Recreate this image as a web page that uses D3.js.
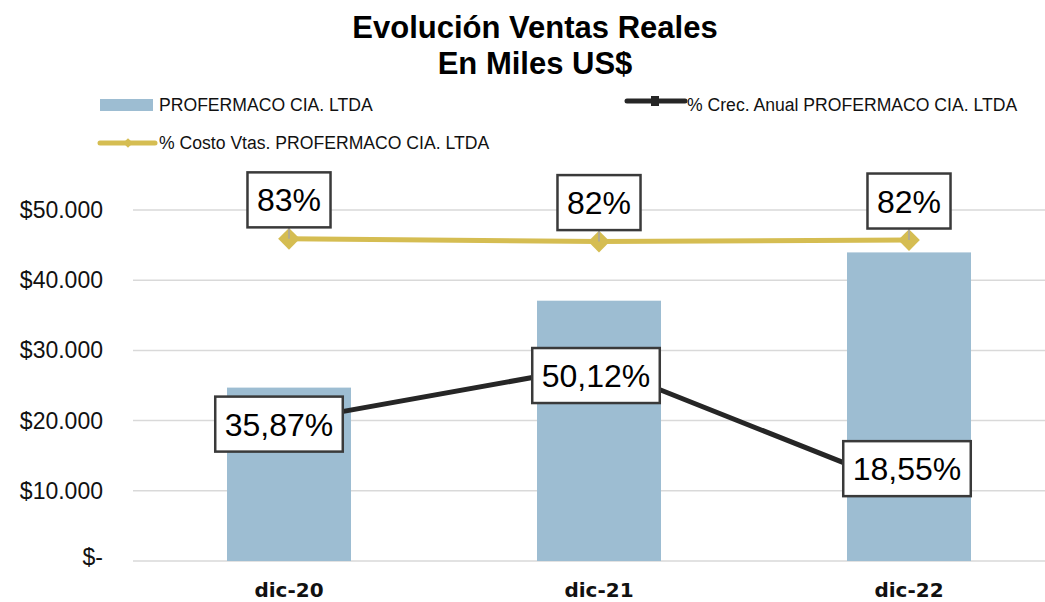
<!DOCTYPE html>
<html lang="es">
<head>
<meta charset="UTF-8">
<title>Evolución Ventas Reales</title>
<script src="https://d3js.org/d3.v7.min.js"></script>
<style>
  body { margin: 0; background: #fff; }
  svg { display: block; font-family: "Liberation Sans", Arial, sans-serif; }
</style>
</head>
<body>
<svg id="chart"></svg>
<script>
// datos
const categorias = ["dic-20", "dic-21", "dic-22"];
const ventas = [24700, 37080, 43960];          // miles US$
const crecimiento = [35.87, 50.12, 18.55];     // % crec. anual
const costo = [82.6, 81.9, 82.3];              // % costo ventas
const ticksY = [0, 10000, 20000, 30000, 40000, 50000];

const width = 1045, height = 602;
const colBar = "#9dbdd2", colGold = "#d5bd52", colBlack = "#262626";

const svg = d3.select("#chart").attr("width", width).attr("height", height);

const x = d3.scaleBand().domain(categorias).range([134, 1064])
            .paddingInner(0.6).paddingOuter(0.3);
const y = d3.scaleLinear().domain([0, 50000]).range([561, 210]);
const y2 = d3.scaleLinear().domain([0, 90]).range([561, 210]);

const loc = d3.formatLocale({decimal: ",", thousands: ".", grouping: [3], currency: ["$", ""]});
const fmtMoney = v => v === 0 ? "$-" : "$" + loc.format(",.0f")(v);
const fmtPct2 = loc.format(".2f");

// titulo
svg.append("text").attr("x", 535).attr("y", 38).attr("text-anchor", "middle")
   .attr("font-size", 31).attr("font-weight", "bold").text("Evolución Ventas Reales");
svg.append("text").attr("x", 535).attr("y", 74).attr("text-anchor", "middle")
   .attr("font-size", 31).attr("font-weight", "bold").text("En Miles US$");

// grilla y eje y
svg.append("g").selectAll("line").data(ticksY).join("line")
   .attr("x1", 133).attr("x2", width)
   .attr("y1", d => y(d)).attr("y2", d => y(d))
   .attr("stroke", "#d9d9d9").attr("stroke-width", 1.5);

svg.append("g").selectAll("text").data(ticksY).join("text")
   .attr("x", 103).attr("y", d => y(d) + (d === 0 ? -4 : 0)).attr("dy", "0.35em")
   .attr("text-anchor", "end").attr("font-size", 23).attr("fill", "#111")
   .text(fmtMoney);

// barras
svg.append("g").selectAll("rect").data(ventas).join("rect")
   .attr("x", (d, i) => x(categorias[i]))
   .attr("y", d => y(d))
   .attr("width", x.bandwidth())
   .attr("height", d => y(0) - y(d))
   .attr("fill", colBar);

// eje x
const xAxis = svg.append("g").attr("transform", `translate(0,${y(0)})`)
   .call(d3.axisBottom(x).tickSize(0).tickPadding(22));
xAxis.select(".domain").remove();
xAxis.selectAll("text").attr("font-family", "'DejaVu Sans', sans-serif")
   .attr("font-weight", "bold").attr("font-size", 20).attr("fill", "#111");

const cx = i => x(categorias[i]) + x.bandwidth() / 2;

// linea costo
svg.append("path").datum(costo)
   .attr("d", d3.line().x((d, i) => cx(i)).y(d => y2(d)))
   .attr("fill", "none").attr("stroke", colGold).attr("stroke-width", 5);
svg.append("g").selectAll("path").data(costo).join("path")
   .attr("d", d3.symbol(d3.symbolDiamond2, 300))
   .attr("transform", (d, i) => `translate(${cx(i)},${y2(d)})`)
   .attr("fill", colGold);

// linea crecimiento
svg.append("path").datum(crecimiento)
   .attr("d", d3.line().x((d, i) => cx(i)).y(d => y2(d)))
   .attr("fill", "none").attr("stroke", colBlack).attr("stroke-width", 5);

// etiquetas
function etiqueta(g, px, py, txt) {
  const t = g.append("text").attr("x", px).attr("y", py).attr("dy", "0.36em")
     .attr("text-anchor", "middle").attr("font-size", 32).attr("fill", "#000").text(txt);
  const w = t.node().getComputedTextLength() + 19;
  g.insert("rect", "text").attr("x", px - w / 2).attr("y", py - 27.5)
   .attr("width", w).attr("height", 55)
   .attr("fill", "#fff").attr("stroke", "#3a3a3a").attr("stroke-width", 2.5);
}

const labCosto = svg.append("g");
costo.forEach((d, i) => {
  const py = y2(d) - 39;
  labCosto.append("line").attr("x1", cx(i)).attr("x2", cx(i))
     .attr("y1", py + 27.5).attr("y2", y2(d)).attr("stroke", "#a6a6a6").attr("stroke-width", 1.5);
  etiqueta(labCosto.append("g"), cx(i), py, Math.round(d) + "%");
});

const offCrec = [[-10, 3], [-3, 10], [-2, -20]];
const labCrec = svg.append("g");
crecimiento.forEach((d, i) => {
  etiqueta(labCrec.append("g"), cx(i) + offCrec[i][0], y2(d) + offCrec[i][1], fmtPct2(d) + "%");
});

// leyenda
const leg = svg.append("g").attr("font-size", 17.6).attr("fill", "#111");
leg.append("rect").attr("x", 100).attr("y", 99).attr("width", 53).attr("height", 12).attr("fill", colBar);
leg.append("text").attr("x", 159).attr("y", 111).text("PROFERMACO CIA. LTDA");

leg.append("line").attr("x1", 627).attr("x2", 685).attr("y1", 101).attr("y2", 101)
   .attr("stroke", colBlack).attr("stroke-width", 5).attr("stroke-linecap", "round");
leg.append("rect").attr("x", 651).attr("y", 96).attr("width", 8).attr("height", 10).attr("fill", colBlack);
leg.append("text").attr("x", 687).attr("y", 111).text("% Crec. Anual PROFERMACO CIA. LTDA");

leg.append("line").attr("x1", 100).attr("x2", 155).attr("y1", 143).attr("y2", 143)
   .attr("stroke", colGold).attr("stroke-width", 5).attr("stroke-linecap", "round");
leg.append("path").attr("d", d3.symbol(d3.symbolDiamond2, 60))
   .attr("transform", "translate(128,143)").attr("fill", colGold);
leg.append("text").attr("x", 159).attr("y", 149).text("% Costo Vtas. PROFERMACO CIA. LTDA");
</script>
</body>
</html>
